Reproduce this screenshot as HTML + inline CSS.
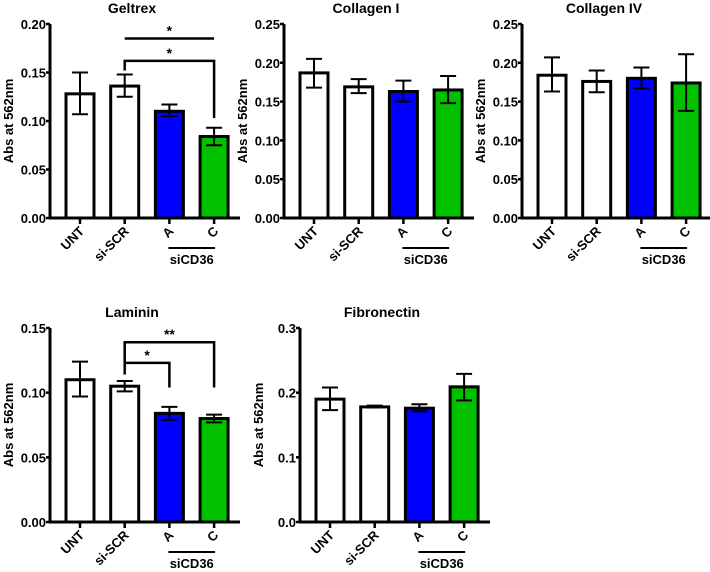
<!DOCTYPE html>
<html><head><meta charset="utf-8"><style>
html,body{margin:0;padding:0;background:#fff;width:710px;height:572px;overflow:hidden}
svg text{font-family:"Liberation Sans",Arial,sans-serif;font-weight:bold;fill:#000}
</style></head><body>
<svg id="fig" width="710" height="572" viewBox="0 0 710 572"></svg>
<script>
const categories = ["UNT","si-SCR","A","C"];
const barColors = ["#ffffff","#ffffff","#0000ff","#00c000"];
const titles = ["Geltrex","Collagen I","Collagen IV","Laminin","Fibronectin"];
const geltrexMean = [0.128,0.136,0.110,0.084];
const geltrexLo = [0.107,0.125,0.105,0.075];
const geltrexHi = [0.150,0.148,0.117,0.093];
const col1Mean = [0.187,0.169,0.163,0.165];
const col1Lo = [0.168,0.161,0.150,0.148];
const col1Hi = [0.205,0.179,0.177,0.183];
const col4Mean = [0.184,0.176,0.180,0.174];
const col4Lo = [0.163,0.162,0.167,0.138];
const col4Hi = [0.207,0.190,0.194,0.211];
const lamMean = [0.110,0.105,0.084,0.080];
const lamLo = [0.097,0.101,0.079,0.077];
const lamHi = [0.124,0.109,0.089,0.083];
const fibMean = [0.190,0.178,0.176,0.209];
const fibLo = [0.173,0.177,0.171,0.188];
const fibHi = [0.208,0.180,0.182,0.229];
const ticks1 = ["0.00","0.05","0.10","0.15","0.20"];
const ticks2 = ["0.00","0.05","0.10","0.15","0.20","0.25"];
const ticks3 = ["0.00","0.05","0.10","0.15"];
const ticks4 = ["0.0","0.1","0.2","0.3"];

const NS="http://www.w3.org/2000/svg";
const fig=document.getElementById('fig');
function mk(tag,attrs,parent,text){const e=document.createElementNS(NS,tag);for(const k in attrs)e.setAttribute(k,attrs[k]);if(text!==undefined)e.textContent=text;parent.appendChild(e);return e;}

function panel(idx,ax,y0,ytop,ticks,mean,lo,hi,name,sig){
  const g=mk('g',{},fig);
  
  
  const ymax=parseFloat(ticks[ticks.length-1]);
  const y=v=>y0-(v/ymax)*(y0-ytop);
  const x=i=>ax+16+14+i*44.7;
  const t=mk('text',{x:ax+82,y:ytop-11,'font-size':14,'text-anchor':'middle'},g,titles[idx]);
  
  
  const yt=mk('text',{transform:`translate(${ax-37},${(y0+ytop)/2}) rotate(-90)`,'font-size':13,'text-anchor':'middle'},g,'Abs at 562nm');
  
  
  ticks.forEach(tk=>{const v=parseFloat(tk);
    mk('line',{x1:ax-4,x2:ax,y1:y(v),y2:y(v),stroke:'#000','stroke-width':2.5},g);
    const tl=mk('text',{x:ax-4,y:y(v)+5,'font-size':13,'text-anchor':'end'},g,tk);
    
    
  });
  categories.forEach((c,i)=>{
    const cx=x(i);
    const b=mk('rect',{x:cx-14,y:y(mean[i]),width:28,height:y0-y(mean[i]),fill:barColors[i],stroke:'#000','stroke-width':3},g);
    
    
    const e=mk('path',{d:`M${cx},${y(lo[i])}V${y(hi[i])}M${cx-8},${y(hi[i])}H${cx+8}M${cx-8},${y(lo[i])}H${cx+8}`,stroke:'#000','stroke-width':2,fill:'none'},g);
    
    
    mk('line',{x1:cx,x2:cx,y1:y0,y2:y0+6,stroke:'#000','stroke-width':2.5},g);
    const xl=mk('text',{transform:`translate(${cx+5},${y0+14}) rotate(-45)`,'font-size':13,'text-anchor':'end'},g,c);
    
    
  });
  mk('line',{x1:ax,x2:ax,y1:ytop,y2:y0+1,stroke:'#000','stroke-width':3},g);
  mk('line',{x1:ax-1,x2:ax+190,y1:y0,y2:y0,stroke:'#000','stroke-width':3},g);
  mk('line',{x1:x(2)-1,x2:x(3)+1,y1:y0+30,y2:y0+30,stroke:'#000','stroke-width':2},g);
  const sl=mk('text',{x:(x(2)+x(3))/2,y:y0+46,'font-size':13,'text-anchor':'middle'},g,'siCD36');
  
  
  (sig||[]).forEach(s=>{
    const d=s.legs?`M${x(s.a)},${y(s.la)}V${y(s.top)}H${x(s.b)}V${y(s.lb)}`:`M${x(s.a)},${y(s.top)}H${x(s.b)}`;
    const p=mk('path',{d:d,stroke:'#000','stroke-width':2.5,fill:'none'},g);
    
    
    const st=mk('text',{x:(x(s.a)+x(s.b))/2,y:y(s.top)-3,'font-size':14,'text-anchor':'middle'},g,s.label);
    
    
  });
}
panel(0,50,218,24,ticks1,geltrexMean,geltrexLo,geltrexHi,'geltrex',[
  {a:1,b:3,top:0.185,label:'*',legs:false},
  {a:1,b:3,top:0.162,la:0.152,lb:0.103,label:'*',legs:true}]);
panel(1,284,218,24,ticks2,col1Mean,col1Lo,col1Hi,'collagen-i');
panel(2,522,218,24,ticks2,col4Mean,col4Lo,col4Hi,'collagen-iv');
panel(3,50,522,328,ticks3,lamMean,lamLo,lamHi,'laminin',[
  {a:1,b:3,top:0.139,la:0.123,lb:0.104,label:'**',legs:true},
  {a:1,b:2,top:0.123,la:0.114,lb:0.104,label:'*',legs:true}]);
panel(4,300,522,328,ticks4,fibMean,fibLo,fibHi,'fibronectin');
</script>
</body></html>
